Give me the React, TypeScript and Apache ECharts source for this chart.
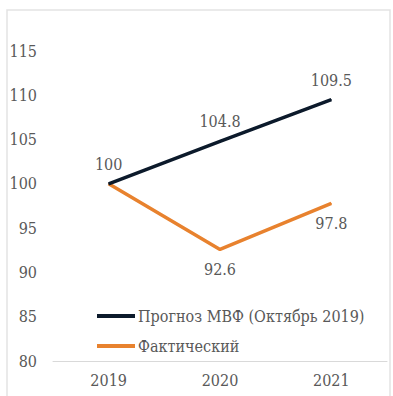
import React, { useEffect, useRef } from "react";
import * as echarts from "echarts";

const years = ["2019", "2020", "2021"];
const forecastName = "Прогноз МВФ (Октябрь 2019)";
const actualName = "Фактический";
const forecastValues = [100, 104.8, 109.5];
const actualValues = [100, 92.6, 97.8];
const yMin = 80;
const yMax = 115;
const yStep = 5;

const FONT = "DejaVu Serif Condensed, DejaVu Serif";
const FS = 16;
const TEXT = "#595959";
const NAVY = "#0c1a2b";
const ORANGE = "#e8822e";

export default function App() {
  const ref = useRef<HTMLDivElement>(null);

  useEffect(() => {
    if (!ref.current) return;
    const chart = echarts.init(ref.current, undefined, { renderer: "svg" });
    chart.setOption({
      animation: false,
      backgroundColor: "#ffffff",
      textStyle: { fontFamily: FONT },
      graphic: [
        {
          type: "rect",
          shape: { x: 7, y: 10, width: 383, height: 400 },
          style: { fill: "none", stroke: "#e3e3e3", lineWidth: 1.5 },
          silent: true,
        },
      ],
      grid: { left: 53, right: 6, top: 51, bottom: 35 },
      legend: {
        orient: "vertical",
        left: 92,
        top: 303,
        itemWidth: 38,
        itemHeight: 4,
        itemGap: 14,
        icon: "rect",
        textStyle: { color: TEXT, fontSize: FS, fontFamily: FONT, padding: [0, 0, 0, -2] },
        data: [forecastName, actualName],
      },
      xAxis: {
        type: "category",
        data: years,
        boundaryGap: true,
        axisLine: { show: true, lineStyle: { color: "#d9d9d9", width: 1 } },
        axisTick: { show: false },
        axisLabel: { color: TEXT, fontSize: FS, fontFamily: FONT, margin: 11 },
      },
      yAxis: {
        type: "value",
        min: yMin,
        max: yMax,
        interval: yStep,
        axisLine: { show: false },
        axisTick: { show: false },
        splitLine: { show: false },
        axisLabel: { color: TEXT, fontSize: FS, fontFamily: FONT, margin: 16 },
      },
      series: [
        {
          name: forecastName,
          type: "line",
          data: forecastValues,
          symbol: "circle",
          symbolSize: 1,
          lineStyle: { color: NAVY, width: 3.5 },
          itemStyle: { color: NAVY },
          label: {
            show: true,
            position: "top",
            distance: 11,
            color: TEXT,
            fontSize: FS,
            fontFamily: FONT,
          },
          z: 3,
        },
        {
          name: actualName,
          type: "line",
          data: actualValues.map((v, i) =>
            i === 0 ? { value: v, label: { show: false } } : v
          ),
          symbol: "circle",
          symbolSize: 1,
          lineStyle: { color: ORANGE, width: 3.5 },
          itemStyle: { color: ORANGE },
          label: {
            show: true,
            position: "bottom",
            distance: 12,
            color: TEXT,
            fontSize: FS,
            fontFamily: FONT,
          },
          z: 2,
        },
      ],
    });
    return () => chart.dispose();
  }, []);

  return (
    <div
      ref={ref}
      style={{ position: "absolute", left: 0, top: 0, width: 393, height: 396 }}
    />
  );
}
